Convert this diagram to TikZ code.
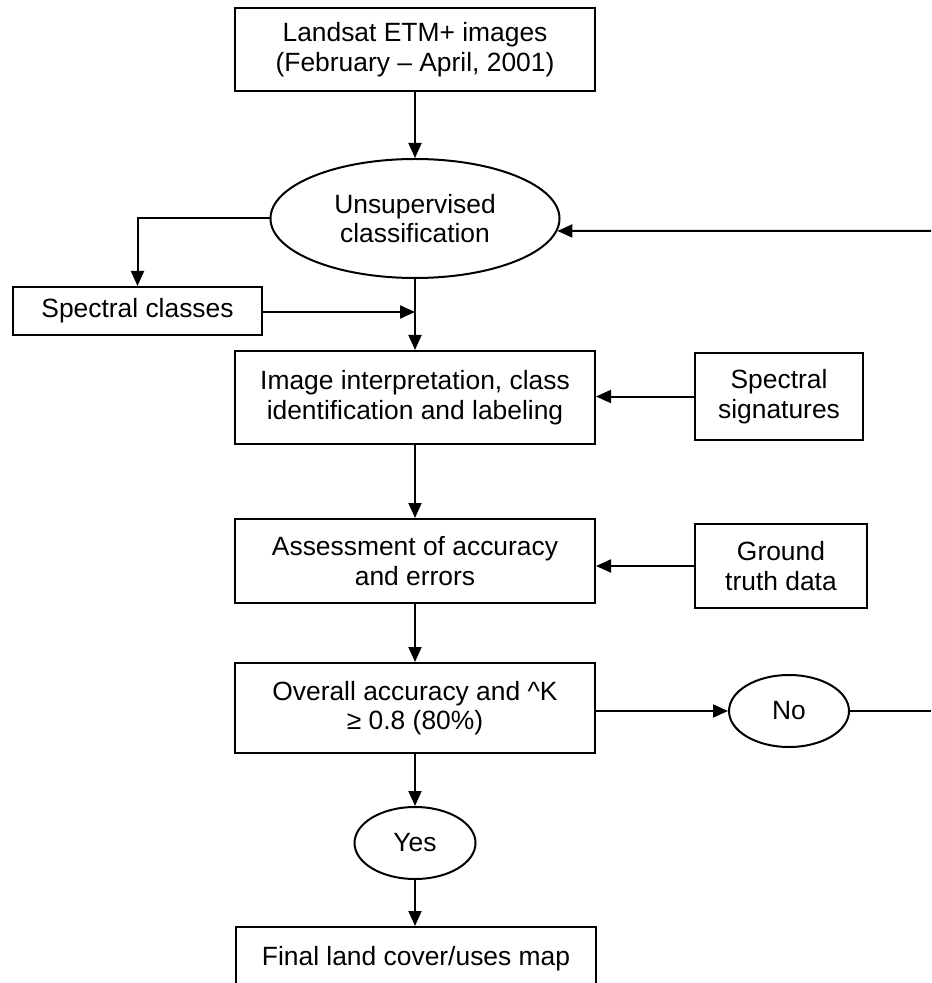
\documentclass[tikz,border=0pt]{standalone}
\usepackage{fontspec}
\setmainfont{Liberation Sans}
\usepackage{tikz}
\usetikzlibrary{arrows.meta,shapes.geometric}

\begin{document}
\begin{tikzpicture}[x=0.5pt, y=-0.5pt, line width=1pt,
    font=\fontsize{13.2}{14.8}\selectfont,
    box/.style={draw, rectangle, align=center, inner sep=0pt},
    oval/.style={draw, ellipse, align=center, inner sep=0pt},
    arr/.style={line width=1pt, -{Triangle[length=7.5pt,width=6.5pt]}}]
    \useasboundingbox (0,0) rectangle (931,983);
    % main column
    \node[box, minimum width=180pt, minimum height=41.5pt] (top) at (415,49.5) {Landsat ETM+ images\\(February -- April, 2001)};
    \node[oval, minimum width=144.5pt, minimum height=59.5pt] (uc) at (415,218.5) {Unsupervised\\classification};
    \node[box, minimum width=124.5pt, minimum height=24pt] (sc) at (137.5,311) {Spectral classes};
    \node[box, minimum width=180pt, minimum height=46.5pt] (img) at (415,397.5) {Image interpretation, class\\identification and labeling};
    \node[box, minimum width=180pt, minimum height=42pt] (assess) at (415,561) {Assessment of accuracy\\and errors};
    \node[box, minimum width=180pt, minimum height=45pt] (overall) at (415,708) {Overall accuracy and \textasciicircum K\\≥ 0.8 (80\%)};
    \node[oval, minimum width=60.5pt, minimum height=36pt] (yes) at (415,843) {Yes};
    \node[box, minimum width=180pt, minimum height=32pt] (final) at (416,959) {Final land cover/uses map};
    % side inputs
    \node[box, minimum width=84pt, minimum height=43.5pt] (sig) at (779,396.5) {Spectral\\signatures};
    \node[box, minimum width=86pt, minimum height=42pt] (gt) at (781,566) {Ground\\truth data};
    \node[oval, minimum width=60pt, minimum height=36pt] (no) at (789,711) {No};
    \coordinate (edgeN) at (931,711);
    \coordinate (edgeU) at (931,231);
    \coordinate (scin) at (415,312);

    \foreach \a/\b in {top/uc, uc/img, img/assess, assess/overall, overall/yes, yes/final}
        \draw[arr] (\a.south) -- (\a.south |- \b.north);
    \foreach \s/\t in {sig/img, gt/assess}
        \draw[arr] (\s.west) -- (\s.west -| \t.east);
    \draw[arr] (uc.west) -| (sc.north);
    \draw[arr] (sc.east |- scin) -- (scin);
    \draw[arr] (overall.east |- no.west) -- (no.west);
    \draw (no.east) -- (edgeN);
    \draw[arr] (edgeU) -- (uc.-5);
\end{tikzpicture}
\end{document}
